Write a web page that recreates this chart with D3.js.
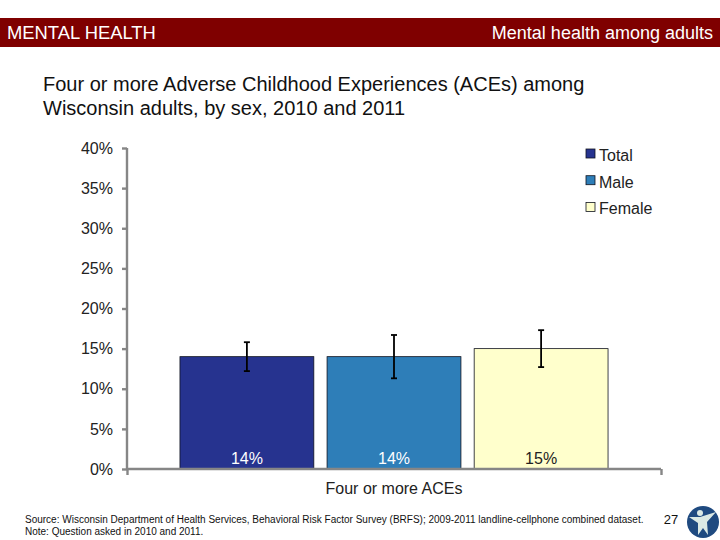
<!DOCTYPE html>
<html>
<head>
<meta charset="utf-8">
<script src="https://d3js.org/d3.v7.min.js"></script>
<style>
body { margin: 0; background: #fff; }
text { font-family: "Liberation Sans", Arial, sans-serif; }
.axis path, .axis line { stroke: #868686; stroke-width: 2.4; fill: none; }
.axis text { font-size: 16px; fill: #222; }
</style>
</head>
<body>
<div id="chart-area"></div>
<script>
const category = "Four or more ACEs";
const seriesNames = ["Total", "Male", "Female"];
const seriesValues = [14, 14, 15];
const errorLow = [12.2, 11.3, 12.7];
const errorHigh = [15.8, 16.7, 17.3];
const seriesColors = ["#26338f", "#2e7eb8", "#ffffcc"];
const yTicks = [0, 5, 10, 15, 20, 25, 30, 35, 40];
const titleLines = [
    "Four or more Adverse Childhood Experiences (ACEs) among",
    "Wisconsin adults, by sex, 2010 and 2011"
];
const sourceLines = [
    "Source: Wisconsin Department of Health Services, Behavioral Risk Factor Survey (BRFS); 2009-2011 landline-cellphone combined dataset.",
    "Note: Question asked in 2010 and 2011."
];

const margin = { top: 148, right: 59, bottom: 71, left: 127 };
const width = 720 - margin.left - margin.right;
const height = 540 - margin.top - margin.bottom;

const svg = d3.select("#chart-area").append("svg")
    .attr("width", 720)
    .attr("height", 540)
    .style("display", "block");

// header band
svg.append("rect")
    .attr("x", 0).attr("y", 18)
    .attr("width", 720).attr("height", 29)
    .attr("fill", "#7f0000");
svg.append("text")
    .attr("x", 7).attr("y", 39)
    .attr("font-size", 18.4)
    .attr("fill", "#fff")
    .text("MENTAL HEALTH");
svg.append("text")
    .attr("x", 713).attr("y", 39)
    .attr("text-anchor", "end")
    .attr("font-size", 18)
    .attr("fill", "#fff")
    .text("Mental health among adults");

svg.selectAll(".title").data(titleLines).enter()
    .append("text")
    .attr("class", "title")
    .attr("x", 43)
    .attr("y", (d, i) => 91 + i * 24)
    .attr("font-size", 20)
    .attr("fill", "#111")
    .text(d => d);

const g = svg.append("g")
    .attr("transform", `translate(${margin.left}, ${margin.top})`);

const x = d3.scaleBand()
    .domain(seriesNames)
    .range([0, width])
    .paddingInner(0.09)
    .paddingOuter(0.36);

const y = d3.scaleLinear()
    .domain([0, 40])
    .range([height, 0]);

g.selectAll(".bar").data(seriesNames).enter()
    .append("rect")
    .attr("class", "bar")
    .attr("x", d => x(d))
    .attr("y", (d, i) => y(seriesValues[i]))
    .attr("width", x.bandwidth())
    .attr("height", (d, i) => height - y(seriesValues[i]))
    .attr("fill", (d, i) => seriesColors[i])
    .attr("stroke", "#10131f")
    .attr("stroke-width", 0.8);

const yAxisCall = d3.axisLeft(y)
    .tickValues(yTicks)
    .tickSize(5)
    .tickPadding(9)
    .tickFormat(d => `${d}%`);
const yAxis = g.append("g").attr("class", "y axis").call(yAxisCall);
yAxis.select(".domain").attr("d", `M0,${height}V0`);

const xAxisCall = d3.axisBottom(d3.scaleLinear().domain([0, 1]).range([0, width]))
    .tickValues([0, 1])
    .tickSize(6)
    .tickFormat("");
const xAxis = g.append("g")
    .attr("class", "x axis")
    .attr("transform", `translate(0, ${height})`)
    .call(xAxisCall);
xAxis.select(".domain").attr("d", `M0,0H${width}`);

// error bars
const errs = g.selectAll(".err").data(seriesNames).enter()
    .append("g")
    .attr("class", "err")
    .attr("transform", d => `translate(${x(d) + x.bandwidth() / 2}, 0)`)
    .attr("stroke", "#000")
    .attr("stroke-width", 1.8);
errs.append("line")
    .attr("y1", (d, i) => y(errorLow[i]))
    .attr("y2", (d, i) => y(errorHigh[i]));
errs.append("line")
    .attr("x1", -3).attr("x2", 3)
    .attr("y1", (d, i) => y(errorLow[i]))
    .attr("y2", (d, i) => y(errorLow[i]));
errs.append("line")
    .attr("x1", -3).attr("x2", 3)
    .attr("y1", (d, i) => y(errorHigh[i]))
    .attr("y2", (d, i) => y(errorHigh[i]));

// value labels
g.selectAll(".value").data(seriesNames).enter()
    .append("text")
    .attr("class", "value")
    .attr("x", d => x(d) + x.bandwidth() / 2)
    .attr("y", height - 5)
    .attr("text-anchor", "middle")
    .attr("font-size", 16)
    .attr("fill", (d, i) => i === 2 ? "#222" : "#fff")
    .text((d, i) => `${seriesValues[i]}%`);

g.append("text")
    .attr("x", width / 2)
    .attr("y", height + 25)
    .attr("text-anchor", "middle")
    .attr("font-size", 16)
    .attr("fill", "#222")
    .text(category);

// legend
const legend = svg.selectAll(".legend").data(seriesNames).enter()
    .append("g")
    .attr("class", "legend")
    .attr("transform", (d, i) => `translate(586, ${149 + i * 26.7})`);
legend.append("rect")
    .attr("width", 9).attr("height", 9)
    .attr("fill", (d, i) => seriesColors[i])
    .attr("stroke", "#10131f")
    .attr("stroke-width", 0.8);
legend.append("text")
    .attr("x", 13).attr("y", 12)
    .attr("font-size", 16)
    .attr("fill", "#222")
    .text(d => d);

svg.selectAll(".source").data(sourceLines).enter()
    .append("text")
    .attr("class", "source")
    .attr("x", 25)
    .attr("y", (d, i) => 523 + i * 12)
    .attr("font-size", 10)
    .attr("fill", "#111")
    .text(d => d);

svg.append("text")
    .attr("x", 671).attr("y", 524)
    .attr("text-anchor", "middle")
    .attr("font-size", 13)
    .attr("fill", "#111")
    .text("27");

// logo
const logo = svg.append("g").attr("transform", "translate(703, 522)");
logo.append("circle").attr("r", 16).attr("fill", "#1f4a80");
logo.append("circle").attr("cx", -3).attr("cy", -9).attr("r", 3).attr("fill", "#dbe9e4");
logo.append("path")
    .attr("d", "M-14,-5 L-3,-5 L13,-10 L4,0 L5,13 L0,6 L-5,13 L-5,1 Z")
    .attr("fill", "#dbe9e4");
</script>
</body>
</html>
